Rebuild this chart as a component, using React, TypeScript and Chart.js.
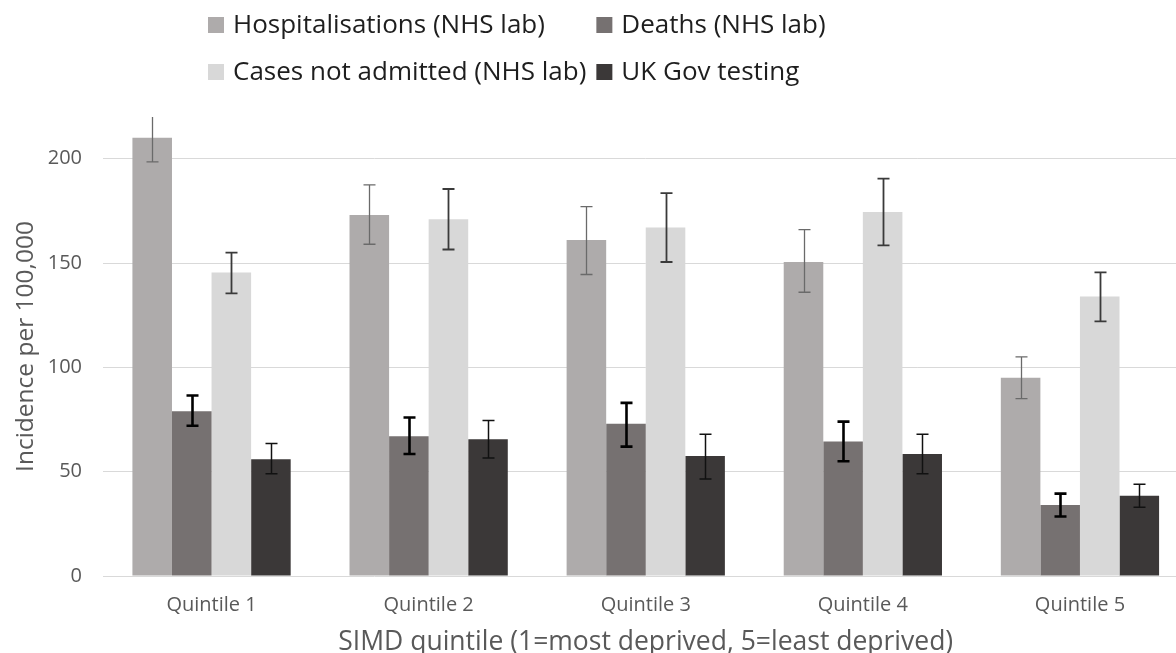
import React, { useEffect, useRef } from 'react';
import { Chart, registerables } from 'chart.js';

Chart.register(...registerables);

// ---------- data ----------
const categories = ['Quintile 1', 'Quintile 2', 'Quintile 3', 'Quintile 4', 'Quintile 5'];
const seriesNames = [
  'Hospitalisations (NHS lab)',
  'Deaths (NHS lab)',
  'Cases not admitted (NHS lab)',
  'UK Gov testing',
];

const hospitalisations = [210, 173, 161, 150.5, 95];
const hospitalisationsLow = [198.5, 159, 144.5, 136, 85];
const hospitalisationsHigh = [221.5, 187.5, 177, 166, 105];

const deaths = [79, 67, 73, 64.5, 34];
const deathsLow = [72, 58.5, 62, 55, 28.5];
const deathsHigh = [86.5, 76, 83, 74, 39.5];

const casesNotAdmitted = [145.5, 171, 167, 174.5, 134];
const casesNotAdmittedLow = [135.5, 156.5, 150.5, 158.5, 122];
const casesNotAdmittedHigh = [155, 185.5, 183.5, 190.5, 145.5];

const ukGovTesting = [56, 65.5, 57.5, 58.5, 38.5];
const ukGovTestingLow = [49, 56.5, 46.5, 49, 33];
const ukGovTestingHigh = [63.5, 74.5, 68, 68, 44];

const yTickValues = [0, 50, 100, 150, 200];
const yMax = 220;

const xTitle = 'SIMD quintile (1=most deprived, 5=least deprived)';
const yTitle = 'Incidence per 100,000';

// ---------- styles ----------
const barColors = ['#AEABAB', '#767171', '#D8D8D8', '#3B3838'];
const errorColors = ['#6A6A6A', '#000000', '#3A3A3A', '#111111'];
const errorWidths = [1.3, 2.6, 1.8, 1.5];
const FONT = '"Open Sans", "Noto Sans", sans-serif';

const seriesValues = [hospitalisations, deaths, casesNotAdmitted, ukGovTesting];
const seriesLow = [hospitalisationsLow, deathsLow, casesNotAdmittedLow, ukGovTestingLow];
const seriesHigh = [hospitalisationsHigh, deathsHigh, casesNotAdmittedHigh, ukGovTestingHigh];

const errorBarPlugin = {
  id: 'errorBars',
  afterDatasetsDraw(chart: any) {
    const { ctx, chartArea, scales } = chart;
    ctx.save();
    ctx.beginPath();
    ctx.rect(chartArea.left, chartArea.top, chartArea.right - chartArea.left, chartArea.bottom - chartArea.top);
    ctx.clip();
    const cap = 6;
    chart.data.datasets.forEach((_ds: any, i: number) => {
      const meta = chart.getDatasetMeta(i);
      ctx.strokeStyle = errorColors[i];
      ctx.lineWidth = errorWidths[i];
      meta.data.forEach((bar: any, j: number) => {
        const x = Math.round(bar.x) + 0.5;
        const yHi = scales.y.getPixelForValue(seriesHigh[i][j]);
        const yLo = scales.y.getPixelForValue(seriesLow[i][j]);
        ctx.beginPath();
        ctx.moveTo(x, yHi);
        ctx.lineTo(x, yLo);
        ctx.moveTo(x - cap, yHi);
        ctx.lineTo(x + cap, yHi);
        ctx.moveTo(x - cap, yLo);
        ctx.lineTo(x + cap, yLo);
        ctx.stroke();
      });
    });
    ctx.restore();
  },
};

const legendPlugin = {
  id: 'gridLegend',
  afterDraw(chart: any) {
    const { ctx } = chart;
    ctx.save();
    ctx.font = `26px ${FONT}`;
    ctx.textBaseline = 'alphabetic';
    ctx.textAlign = 'left';
    const box = 16;
    const col1Box = 208;
    const textGap = 25;
    const col1Width = Math.max(ctx.measureText(seriesNames[0]).width, ctx.measureText(seriesNames[2]).width);
    const col2Box = col1Box + textGap + col1Width + 10;
    const rows = [33, 80];
    seriesNames.forEach((name, i) => {
      const row = Math.floor(i / 2);
      const col = i % 2;
      const bx = col === 0 ? col1Box : col2Box;
      const base = rows[row];
      ctx.fillStyle = barColors[i];
      ctx.fillRect(bx, base - box, box, box);
      ctx.fillStyle = '#1E1E1E';
      ctx.fillText(name, bx + textGap, base);
    });
    ctx.restore();
  },
};

export default function App() {
  const canvasRef = useRef<HTMLCanvasElement | null>(null);

  useEffect(() => {
    const canvas = canvasRef.current;
    if (!canvas) return;
    const chart = new Chart(canvas, {
      type: 'bar',
      data: {
        labels: categories,
        datasets: seriesNames.map((name, i) => ({
          label: name,
          data: seriesValues[i],
          backgroundColor: barColors[i],
          borderWidth: 0,
          categoryPercentage: 0.729,
          barPercentage: 1.0,
        })),
      },
      options: {
        responsive: false,
        animation: false,
        devicePixelRatio: 1,
        layout: { padding: { top: 117, left: 0, right: 1.5, bottom: 0 } },
        plugins: {
          legend: { display: false },
          tooltip: { enabled: false },
          title: { display: false },
        },
        scales: {
          x: {
            grid: { display: false, drawTicks: false },
            border: { display: false },
            ticks: {
              color: '#595959',
              font: { family: FONT, size: 20 },
              padding: 17,
              maxRotation: 0,
              autoSkip: false,
            },
            title: {
              display: true,
              text: xTitle,
              color: '#595959',
              font: { family: FONT, size: 26.5, lineHeight: 0.8 },
              padding: { top: 0, bottom: 0 },
            },
            afterFit(scale: any) {
              scale.height = 77;
            },
          },
          y: {
            min: 0,
            max: yMax,
            grid: { color: '#D9D9D9', lineWidth: 1, drawTicks: false },
            border: { display: false },
            ticks: {
              stepSize: 50,
              color: '#595959',
              font: { family: FONT, size: 20 },
              padding: 21,
            },
            afterBuildTicks(scale: any) {
              scale.ticks = yTickValues.map((v) => ({ value: v }));
            },
            title: {
              display: true,
              text: yTitle,
              color: '#595959',
              font: { family: FONT, size: 24.5, lineHeight: 1.2 },
              padding: { top: 11, bottom: 0 },
            },
            afterFit(scale: any) {
              scale.width = 103;
            },
          },
        },
      },
      plugins: [errorBarPlugin, legendPlugin],
    });
    return () => chart.destroy();
  }, []);

  return (
    <div
      style={{
        position: 'fixed',
        left: 0,
        top: 0,
        width: 1176,
        height: 653,
        overflow: 'hidden',
        background: '#ffffff',
      }}
    >
      <canvas ref={canvasRef} width={1190} height={653} style={{ display: 'block' }} />
    </div>
  );
}
